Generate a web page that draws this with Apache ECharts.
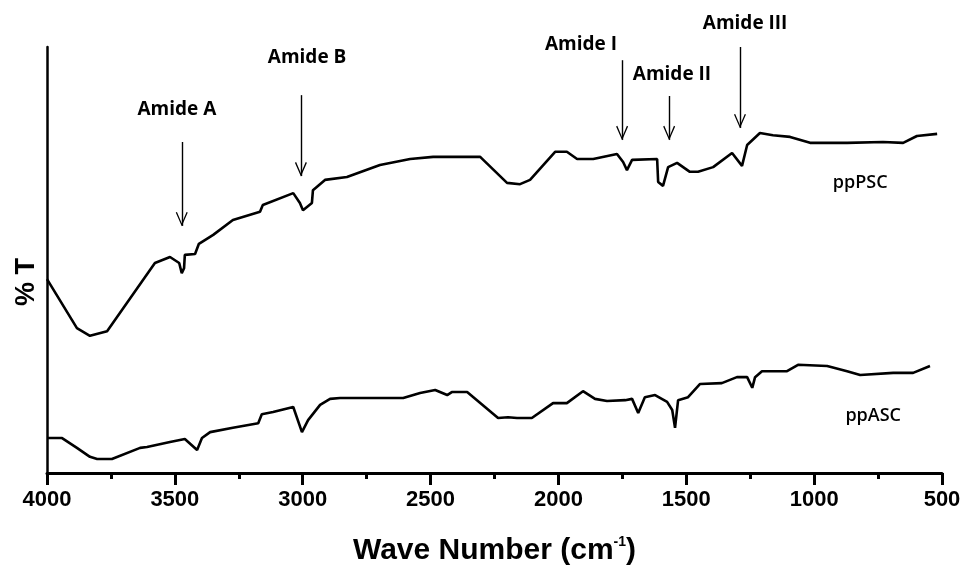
<!DOCTYPE html>
<html>
<head>
<meta charset="utf-8">
<script src="https://cdn.jsdelivr.net/npm/echarts@6/dist/echarts.min.js"></script>
<style>
html,body{margin:0;padding:0;background:#fff;}
#chart{width:973px;height:566px;}
</style>
</head>
<body>
<div id="chart"></div>
<script>
// ---- data (wave number cm-1, %T arbitrary units) ----
const xTicks = [4000, 3500, 3000, 2500, 2000, 1500, 1000, 500];

const pscWn = [4000,3883,3832,3765,3578,3519,3483,3473,3464,3461,3421,3406,3350,3273,3167,3156,3037,3011,2999,2964,2960,2913,2827,2698,2580,2490,2417,2306,2201,2150,2111,2013,1967,1927,1864,1771,1747,1732,1712,1614,1610,1591,1571,1536,1486,1454,1395,1321,1282,1262,1212,1161,1094,1016,871,731,652,598,519];
const pscT  = [45.5,34.0,32.2,33.3,49.3,50.7,49.3,46.9,48.1,51.2,51.4,53.8,55.9,59.4,61.3,62.9,65.7,63.4,61.7,63.4,66.4,68.8,69.5,72.3,73.7,74.2,74.2,74.2,68.1,67.8,68.8,75.4,75.4,73.7,73.7,74.9,73.0,71.1,73.5,73.7,68.3,67.4,71.8,72.8,70.7,70.7,71.8,75.1,72.1,77.0,79.8,79.3,78.9,77.5,77.5,77.7,77.5,79.1,79.6];

const ascWn = [4000,3941,3883,3832,3804,3746,3636,3609,3519,3461,3413,3394,3362,3273,3174,3160,3116,3037,3003,2979,2932,2893,2854,2607,2541,2482,2435,2417,2357,2236,2197,2162,2104,2021,1967,1904,1857,1810,1739,1712,1688,1662,1622,1575,1555,1544,1532,1493,1446,1361,1302,1262,1242,1231,1204,1106,1063,949,871,820,691,613,547];
const ascT  = [8.2,8.2,5.9,3.8,3.3,3.3,5.9,6.1,7.3,8.0,5.4,8.2,9.6,10.6,11.7,13.8,14.3,15.5,9.6,12.4,16.0,17.4,17.6,17.6,18.8,19.5,18.3,19.0,19.0,12.9,13.1,12.9,12.9,16.4,16.4,19.2,17.4,16.9,17.1,17.4,14.1,17.8,18.3,16.7,14.8,10.6,17.1,17.8,20.9,21.1,22.5,22.5,20.0,22.5,23.9,23.9,25.4,25.1,23.9,23.0,23.5,23.5,25.1];

// annotations
const bandNames  = ['Amide A','Amide B','Amide I','Amide II','Amide III'];
const bandWn     = [3473, 3007, 1751, 1567, 1290];
const arrowTopT  = [77.7, 88.7, 96.9, 88.5, 100.0];
const arrowTipT  = [58.0, 69.7, 78.2, 78.2, 81.0];
const labelWn    = [3492, 2983, 1912, 1556, 1270];
const labelT     = [85.2, 97.4, 100.5, 93.6, 105.6];

const seriesNames = ['ppPSC','ppASC'];
const nameWn = [820, 769];
const nameT  = [68.1, 13.4];

const zip = (a,b) => a.map((v,i)=>[v,b[i]]);

const chevron = 'path://M10,20 L20,40 L18,41 L10,24.5 L2,41 L0,40 Z M10,0 L10,0 Z';

const chart = echarts.init(document.getElementById('chart'), null, {renderer:'canvas'});
const option = {
  backgroundColor:'#ffffff',
  animation:false,
  grid:{left:47, right:31, top:47, bottom:93, containLabel:false, outerBoundsMode:'none'},
  xAxis:{
    type:'value', inverse:true, min:500, max:4000, interval:500,
    axisLine:{show:true, onZero:false, lineStyle:{color:'#000', width:3}},
    axisTick:{show:true, length:12, lineStyle:{color:'#000', width:3}},
    minorTick:{show:true, splitNumber:2, length:6, lineStyle:{color:'#000', width:3}},
    splitLine:{show:false},
    axisLabel:{color:'#000', fontFamily:'Liberation Sans', fontWeight:'bold', fontSize:22, margin:16,
      formatter:v=>xTicks.includes(v)?String(v):''},
    name:'{a|Wave Number (cm}{b|-1}{a|)}',
    nameLocation:'middle', nameGap:62,
    nameTextStyle:{rich:{
      a:{fontFamily:'Liberation Sans', fontWeight:'bold', fontSize:30, color:'#000'},
      b:{fontFamily:'Liberation Sans', fontWeight:'bold', fontSize:14, color:'#000', verticalAlign:'top', padding:[0,0,17,0]}
    }}
  },
  yAxis:{
    type:'value', min:0, max:100,
    axisLine:{show:true, lineStyle:{color:'#000', width:2.5}},
    axisTick:{show:false}, axisLabel:{show:false}, splitLine:{show:false},
    name:'% T', nameLocation:'middle', nameRotate:90, nameGap:7,
    nameTextStyle:{fontFamily:'Liberation Sans', fontWeight:'bold', fontSize:27, color:'#000', padding:[0,44,0,0]}
  },
  series:[
    {
      name:seriesNames[0], type:'line', data:zip(pscWn,pscT), showSymbol:false, symbol:'none',
      lineStyle:{color:'#000', width:2.6},
      markLine:{
        silent:true, symbol:['none', chevron], symbolSize:[12,28],
        lineStyle:{color:'#000', width:1.4, type:'solid'},
        label:{show:false},
        data: bandWn.map((w,i)=>[{coord:[w,arrowTopT[i]]},{coord:[w,arrowTipT[i]]}])
      }
    },
    {
      name:seriesNames[1], type:'line', data:zip(ascWn,ascT), showSymbol:false, symbol:'none',
      lineStyle:{color:'#000', width:2.6}
    }
  ]
};
chart.setOption(option);

// text annotations placed through the chart's own coordinate conversion
const txt = (name, wn, t, size, weight) => {
  const p = chart.convertToPixel({gridIndex:0}, [wn, t]);
  return {type:'text', x:p[0], y:p[1], silent:true,
    style:{text:name, fill:'#000', font: weight + ' ' + size + 'px "Open Sans"', align:'center', verticalAlign:'middle'}};
};
const graphics = bandNames.map((n,i)=>txt(n, labelWn[i], labelT[i], 19, 'bold'))
  .concat(seriesNames.map((n,i)=>txt(n, nameWn[i], nameT[i], 18, '600')));
chart.setOption({graphic: graphics});
</script>
</body>
</html>
